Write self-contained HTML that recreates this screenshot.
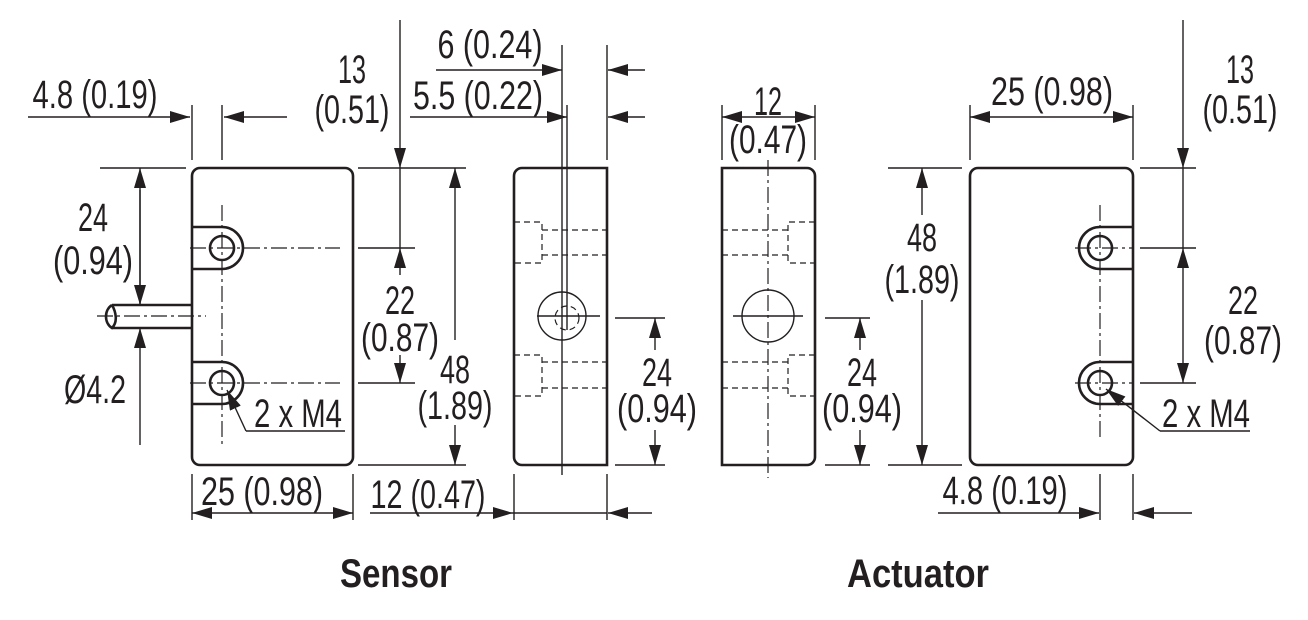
<!DOCTYPE html>
<html><head><meta charset="utf-8"><style>
body{margin:0;background:#fff}
svg{display:block}
text{font-family:"Liberation Sans Narrow","Liberation Sans",sans-serif;font-size:40px;fill:#231f20;text-anchor:middle}
.b{font-weight:bold;font-size:40px}
.d{stroke:#231f20;stroke-width:1.4;fill:none}
.o{stroke:#231f20;stroke-width:2.6;fill:none}
.c{stroke:#231f20;stroke-width:1.2;fill:none;stroke-dasharray:16 4 3 4}
.h{stroke:#231f20;stroke-width:1.2;fill:none;stroke-dasharray:6 4}
</style></head><body>
<svg width="1308" height="620" viewBox="0 0 1308 620">
<defs>
<marker id="a" markerUnits="userSpaceOnUse" markerWidth="20" markerHeight="12" refX="20" refY="6" orient="auto"><path d="M0,0 L20,6 L0,12 z" fill="#231f20"/></marker>
</defs>

<rect class="o" x="192" y="168" width="161" height="297" rx="8"/>
<path class="o" d="M192,227 H222 A21,21 0 0 1 222,269 H192"/>
<path class="o" d="M192,362 H222 A21,21 0 0 1 222,404 H192"/>
<circle class="o" cx="222" cy="248" r="12"/>
<circle class="o" cx="222" cy="383" r="12"/>
<line class="c" x1="222" y1="205" x2="222" y2="445"/>
<line class="c" x1="190" y1="248" x2="340" y2="248"/>
<line class="c" x1="190" y1="383" x2="340" y2="383"/>
<path class="o" d="M192,305 H112 M192,328 H112 M112,305 C104,310 104,323 112,328 C118,322 116,312 112,305"/>
<line class="c" x1="97" y1="316" x2="206" y2="316"/>
<line class="d" x1="100" y1="168" x2="186" y2="168"/>
<line class="d" x1="140" y1="305" x2="140" y2="168" marker-end="url(#a)"/>
<line class="d" x1="140" y1="190" x2="140" y2="305" marker-end="url(#a)"/>
<line class="d" x1="140" y1="445" x2="140" y2="328" marker-end="url(#a)"/>
<text x="93" y="231" textLength="30" lengthAdjust="spacingAndGlyphs">24</text>
<text x="93" y="274" textLength="80" lengthAdjust="spacingAndGlyphs">(0.94)</text>
<text x="95" y="403" textLength="62" lengthAdjust="spacingAndGlyphs">Ø4.2</text>
<line class="d" x1="192" y1="105" x2="192" y2="160"/>
<line class="d" x1="222" y1="105" x2="222" y2="160"/>
<line class="d" x1="28" y1="117" x2="190" y2="117" marker-end="url(#a)"/>
<line class="d" x1="287" y1="117" x2="224" y2="117" marker-end="url(#a)"/>
<text x="95" y="108" textLength="125" lengthAdjust="spacingAndGlyphs">4.8 (0.19)</text>
<polyline class="d" points="246,431 345,431"/>
<line class="d" x1="246" y1="431" x2="227" y2="390" marker-end="url(#a)"/>
<text x="298" y="427" textLength="88" lengthAdjust="spacingAndGlyphs">2 x M4</text>
<line class="d" x1="400" y1="20" x2="400" y2="168" marker-end="url(#a)"/>
<line class="d" x1="400" y1="168" x2="400" y2="248"/>
<line class="d" x1="358" y1="168" x2="466" y2="168"/>
<line class="d" x1="358" y1="248" x2="415" y2="248"/>
<line class="d" x1="358" y1="383" x2="415" y2="383"/>
<line class="d" x1="358" y1="465" x2="466" y2="465"/>
<text x="352" y="83" textLength="28" lengthAdjust="spacingAndGlyphs">13</text>
<text x="352" y="123" textLength="75" lengthAdjust="spacingAndGlyphs">(0.51)</text>
<line class="d" x1="400" y1="275" x2="400" y2="248" marker-end="url(#a)"/>
<line class="d" x1="400" y1="355" x2="400" y2="383" marker-end="url(#a)"/>
<text x="400" y="314" textLength="30" lengthAdjust="spacingAndGlyphs">22</text>
<text x="400" y="351" textLength="78" lengthAdjust="spacingAndGlyphs">(0.87)</text>
<line class="d" x1="455" y1="340" x2="455" y2="168" marker-end="url(#a)"/>
<line class="d" x1="455" y1="425" x2="455" y2="465" marker-end="url(#a)"/>
<text x="455" y="383" textLength="30" lengthAdjust="spacingAndGlyphs">48</text>
<text x="455" y="419" textLength="75" lengthAdjust="spacingAndGlyphs">(1.89)</text>
<line class="d" x1="192" y1="474" x2="192" y2="520"/>
<line class="d" x1="353" y1="474" x2="353" y2="520"/>
<line class="d" x1="272" y1="513" x2="192" y2="513" marker-end="url(#a)"/>
<line class="d" x1="272" y1="513" x2="353" y2="513" marker-end="url(#a)"/>
<text x="262" y="505" textLength="122" lengthAdjust="spacingAndGlyphs">25 (0.98)</text>
<line class="d" x1="370" y1="513" x2="513" y2="513" marker-end="url(#a)"/>
<line class="d" x1="513" y1="513" x2="607" y2="513"/>
<line class="d" x1="652" y1="513" x2="608" y2="513" marker-end="url(#a)"/>
<line class="d" x1="514" y1="474" x2="514" y2="520"/>
<line class="d" x1="607" y1="474" x2="607" y2="520"/>
<text x="428" y="508" textLength="115" lengthAdjust="spacingAndGlyphs">12 (0.47)</text>

<path class="o" d="M607,168 H522 A8,8 0 0 0 514,176 V457 A8,8 0 0 0 522,465 H607 Z"/>
<line class="d" x1="562" y1="45" x2="562" y2="475"/>
<line class="d" x1="567" y1="105" x2="567" y2="330"/>
<line class="d" x1="607" y1="45" x2="607" y2="160"/>
<circle class="d" cx="562" cy="316" r="24"/>
<circle class="h" cx="567" cy="318" r="12"/>
<line class="d" x1="537" y1="316" x2="600" y2="316"/>
<path class="h" d="M542,230 H607 M542,255 H607 M514,222 H542 V263 H514"/>
<path class="h" d="M542,362 H607 M542,388 H607 M514,355 H542 V396 H514"/>
<line class="d" x1="436" y1="70" x2="562" y2="70" marker-end="url(#a)"/>
<line class="d" x1="645" y1="70" x2="608" y2="70" marker-end="url(#a)"/>
<text x="490" y="58" textLength="105" lengthAdjust="spacingAndGlyphs">6 (0.24)</text>
<line class="d" x1="410" y1="117" x2="567" y2="117" marker-end="url(#a)"/>
<line class="d" x1="645" y1="117" x2="608" y2="117" marker-end="url(#a)"/>
<text x="478" y="109" textLength="130" lengthAdjust="spacingAndGlyphs">5.5 (0.22)</text>
<line class="d" x1="615" y1="318" x2="665" y2="318"/>
<line class="d" x1="615" y1="465" x2="665" y2="465"/>
<line class="d" x1="655" y1="350" x2="655" y2="318" marker-end="url(#a)"/>
<line class="d" x1="655" y1="430" x2="655" y2="465" marker-end="url(#a)"/>
<text x="657" y="386" textLength="30" lengthAdjust="spacingAndGlyphs">24</text>
<text x="657" y="422" textLength="80" lengthAdjust="spacingAndGlyphs">(0.94)</text>

<path class="o" d="M722,168 H807 A8,8 0 0 1 815,176 V457 A8,8 0 0 1 807,465 H722 Z"/>
<line class="c" x1="768" y1="160" x2="768" y2="478"/>
<circle class="d" cx="768" cy="316" r="26"/>
<line class="d" x1="733" y1="316" x2="803" y2="316"/>
<path class="h" d="M722,230 H788 M722,255 H788 M815,222 H788 V263 H815"/>
<path class="h" d="M722,362 H788 M722,388 H788 M815,355 H788 V396 H815"/>
<line class="d" x1="722" y1="105" x2="722" y2="160"/>
<line class="d" x1="815" y1="105" x2="815" y2="160"/>
<line class="d" x1="768" y1="117" x2="722" y2="117" marker-end="url(#a)"/>
<line class="d" x1="768" y1="117" x2="815" y2="117" marker-end="url(#a)"/>
<text x="768" y="115" textLength="28" lengthAdjust="spacingAndGlyphs">12</text>
<text x="768" y="153" textLength="78" lengthAdjust="spacingAndGlyphs">(0.47)</text>
<line class="d" x1="825" y1="318" x2="870" y2="318"/>
<line class="d" x1="825" y1="465" x2="870" y2="465"/>
<line class="d" x1="860" y1="350" x2="860" y2="318" marker-end="url(#a)"/>
<line class="d" x1="860" y1="430" x2="860" y2="465" marker-end="url(#a)"/>
<text x="862" y="386" textLength="30" lengthAdjust="spacingAndGlyphs">24</text>
<text x="862" y="422" textLength="80" lengthAdjust="spacingAndGlyphs">(0.94)</text>

<rect class="o" x="970" y="168" width="163" height="297" rx="8"/>
<path class="o" d="M1133,227 H1100 A21,21 0 0 0 1100,269 H1133"/>
<path class="o" d="M1133,362 H1100 A21,21 0 0 0 1100,404 H1133"/>
<circle class="o" cx="1100" cy="248" r="12"/>
<circle class="o" cx="1100" cy="383" r="12"/>
<line class="c" x1="1100" y1="205" x2="1100" y2="440"/>
<line class="c" x1="1075" y1="248" x2="1133" y2="248"/>
<line class="c" x1="1075" y1="383" x2="1133" y2="383"/>
<line class="d" x1="888" y1="168" x2="962" y2="168"/>
<line class="d" x1="888" y1="465" x2="962" y2="465"/>
<line class="d" x1="922" y1="215" x2="922" y2="168" marker-end="url(#a)"/>
<line class="d" x1="922" y1="300" x2="922" y2="465" marker-end="url(#a)"/>
<text x="922" y="251" textLength="30" lengthAdjust="spacingAndGlyphs">48</text>
<text x="922" y="293" textLength="75" lengthAdjust="spacingAndGlyphs">(1.89)</text>
<line class="d" x1="970" y1="105" x2="970" y2="160"/>
<line class="d" x1="1133" y1="105" x2="1133" y2="160"/>
<line class="d" x1="1052" y1="117" x2="970" y2="117" marker-end="url(#a)"/>
<line class="d" x1="1052" y1="117" x2="1133" y2="117" marker-end="url(#a)"/>
<text x="1052" y="105" textLength="122" lengthAdjust="spacingAndGlyphs">25 (0.98)</text>
<line class="d" x1="1183" y1="20" x2="1183" y2="168" marker-end="url(#a)"/>
<line class="d" x1="1140" y1="168" x2="1196" y2="168"/>
<line class="d" x1="1140" y1="248" x2="1196" y2="248"/>
<line class="d" x1="1140" y1="383" x2="1196" y2="383"/>
<line class="d" x1="1183" y1="168" x2="1183" y2="248"/>
<line class="d" x1="1183" y1="315" x2="1183" y2="248" marker-end="url(#a)"/>
<line class="d" x1="1183" y1="315" x2="1183" y2="383" marker-end="url(#a)"/>
<text x="1240" y="83" textLength="28" lengthAdjust="spacingAndGlyphs">13</text>
<text x="1240" y="123" textLength="75" lengthAdjust="spacingAndGlyphs">(0.51)</text>
<text x="1243" y="314" textLength="30" lengthAdjust="spacingAndGlyphs">22</text>
<text x="1243" y="354" textLength="78" lengthAdjust="spacingAndGlyphs">(0.87)</text>
<line class="d" x1="1160" y1="431" x2="1250" y2="431"/>
<line class="d" x1="1160" y1="431" x2="1106" y2="389" marker-end="url(#a)"/>
<text x="1206" y="427" textLength="88" lengthAdjust="spacingAndGlyphs">2 x M4</text>
<line class="d" x1="1100" y1="474" x2="1100" y2="520"/>
<line class="d" x1="1133" y1="474" x2="1133" y2="520"/>
<line class="d" x1="938" y1="513" x2="1099" y2="513" marker-end="url(#a)"/>
<line class="d" x1="1192" y1="513" x2="1134" y2="513" marker-end="url(#a)"/>
<text x="1005" y="504" textLength="125" lengthAdjust="spacingAndGlyphs">4.8 (0.19)</text>

<text class="b" x="396" y="587" textLength="112" lengthAdjust="spacingAndGlyphs">Sensor</text>
<text class="b" x="918" y="587" textLength="142" lengthAdjust="spacingAndGlyphs">Actuator</text>
</svg>
</body></html>
